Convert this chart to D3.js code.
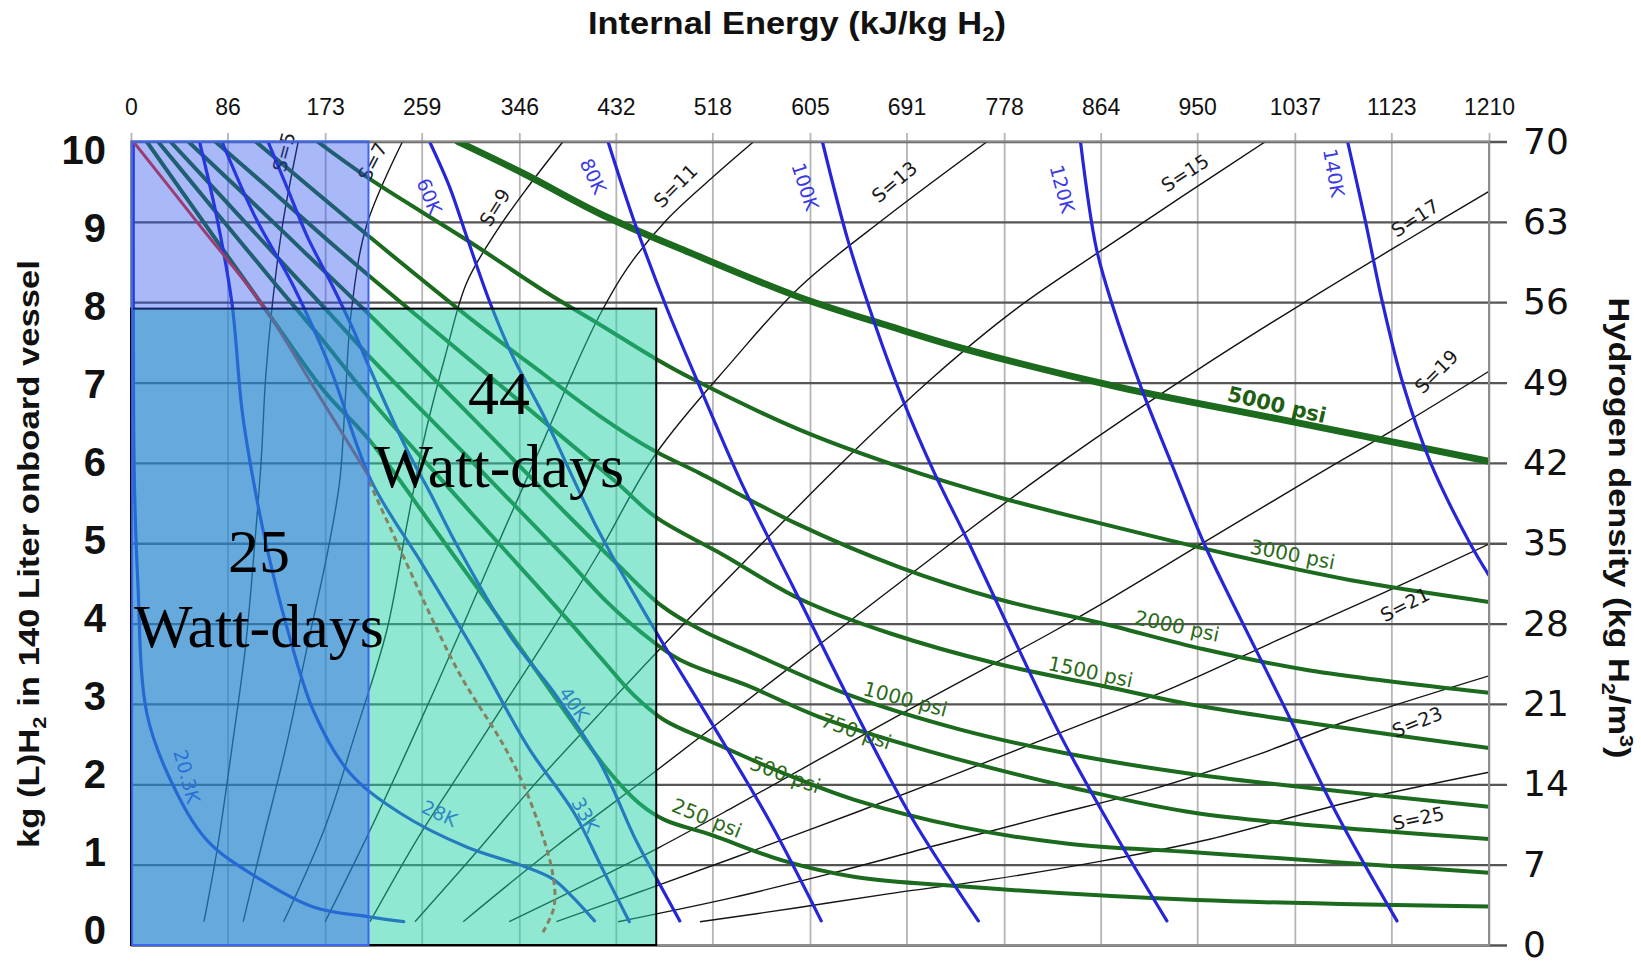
<!DOCTYPE html>
<html>
<head>
<meta charset="utf-8">
<script src="https://cdn.jsdelivr.net/npm/d3@7/dist/d3.min.js"></script>
<style>
  html, body { margin: 0; padding: 0; background: #fff; }
  svg { display: block; }
</style>
</head>
<body>
<svg id="chart" width="1641" height="964"></svg>
<script>
// ---------- axis ticks ----------
const energyTicks  = [0, 86, 173, 259, 346, 432, 518, 605, 691, 778, 864, 950, 1037, 1123, 1210]; // kJ/kg H2
const massTicks    = [0, 1, 2, 3, 4, 5, 6, 7, 8, 9, 10];                                      // kg H2 in 140 L
const densityTicks = [0, 7, 14, 21, 28, 35, 42, 49, 56, 63, 70];                              // kg H2 / m3

// ---------- isobars : [internal energy kJ/kg, kg H2] ----------
const psi250  = [[14,10],[70,8.89],[126,7.79],[173,6.88],[212,6.29],[275,5.09],[331,4.01],[387,2.9],[424,2.19],[453,1.76],[475,1.56],[517,1.37],[581,1.05],[644,0.85],[739,0.73],[950,0.56],[1210,0.48]];
const psi500  = [[24,10],[70,9.22],[126,8.27],[173,7.49],[212,6.81],[303,5.38],[387,4.08],[420,3.55],[448,3.11],[475,2.8],[517,2.53],[581,2.14],[644,1.81],[739,1.47],[835,1.26],[950,1.15],[1210,0.9]];
const psi750  = [[35,10],[79,9.34],[135,8.49],[173,7.92],[212,7.33],[303,6.03],[387,4.82],[424,4.27],[453,3.91],[489,3.55],[549,3.23],[613,2.84],[709,2.42],[835,1.97],[950,1.64],[1210,1.32]];
const psi1000 = [[51,10],[98,9.38],[154,8.63],[212,7.85],[303,6.58],[387,5.38],[434,4.73],[472,4.23],[508,3.92],[549,3.66],[644,3.09],[739,2.68],[835,2.38],[950,2.12],[1210,1.72]];
const psi1500 = [[75,10],[126,9.38],[173,8.8],[212,8.33],[303,7.27],[387,6.29],[434,5.74],[467,5.33],[527,4.86],[597,4.3],[676,3.88],[772,3.5],[867,3.22],[950,2.98],[1077,2.71],[1210,2.45]];
const psi2000 = [[111,10],[163,9.39],[212,8.82],[303,7.79],[368,7.1],[418,6.58],[465,6.16],[507,5.87],[592,5.25],[685,4.7],[774,4.3],[863,4.01],[956,3.68],[1049,3.42],[1210,3.14]];
const psi3000 = [[166,10],[212,9.54],[303,8.74],[368,8.14],[418,7.72],[467,7.3],[501,7.04],[596,6.41],[685,5.95],[774,5.57],[863,5.25],[979,4.86],[1095,4.52],[1210,4.27]];
const psi5000 = [[291,10],[350,9.6],[418,9.1],[499,8.61],[596,8.06],[676,7.7],[745,7.41],[881,6.94],[1021,6.55],[1210,6.02]];

// ---------- isotherms ----------
const k20 = [[2,10],[2,7.85],[3,5.78],[6,4.54],[14,2.89],[35,2.06],[68,1.3],[116,0.81],[163,0.47],[212,0.35],[243,0.29]];
const k28 = [[61,10],[77,9.02],[90,7.98],[99,6.65],[109,5.78],[121,4.95],[139,3.95],[163,2.9],[195,2.14],[240,1.64],[299,1.22],[350,0.98],[376,0.82],[394,0.59],[413,0.3]];
const k33 = [[81,10],[111,9.05],[144,8.22],[177,7.2],[214,5.78],[259,4.75],[307,3.63],[354,2.46],[395,1.64],[420,0.95],[444,0.29]];
const k40 = [[122,10],[139,9.43],[157,8.82],[180,8.19],[198,7.66],[212,7.2],[246,6.16],[266,5.64],[291,4.96],[338,3.84],[377,3.14],[418,2.27],[450,1.3],[469,0.81],[489,0.3]];
const k60 = [[266,10],[284,9.43],[299,8.82],[320,7.99],[340,7.33],[368,6.58],[416,5.17],[463,4.01],[517,2.77],[569,1.54],[615,0.3]];
const k80 = [[425,10],[448,9.02],[477,7.94],[507,6.94],[543,5.78],[592,4.4],[643,2.97],[695,1.6],[755,0.3]];
const k100 = [[616,10],[639,8.76],[663,7.72],[687,6.81],[716,5.87],[747,4.99],[783,3.92],[827,2.64],[874,1.45],[923,0.3]];
const k120 = [[846,10],[860,8.68],[875,7.94],[900,6.94],[928,5.96],[956,5.0],[980,4.3],[1026,3.01],[1074,1.64],[1128,0.3]];
const k140 = [[1084,10],[1100,9],[1115,8],[1133,7],[1158,6],[1193,5],[1210,4.6]];

// ---------- isentropes ----------
const s5  = [[65,0.29],[77,1.21],[90,2.46],[102,3.71],[110,4.95],[116,6.03],[120,7.07],[126,7.98],[135,8.96],[149,10]];
const s7  = [[100,0.29],[116,1.22],[138,2.46],[157,3.71],[176,4.95],[186,5.78],[191,6.81],[196,7.85],[210,8.96],[242,10]];
const s9  = [[136,0.29],[173,1.47],[200,2.64],[228,3.92],[245,5.17],[261,6.29],[280,7.33],[299,8.24],[326,8.89],[354,9.44],[385,10]];
const s11 = [[173,0.29],[210,1.34],[247,2.45],[294,3.92],[331,5.12],[368,6.29],[396,7.2],[418,7.85],[443,8.44],[477,9.02],[517,9.54],[555,10]];
const s13 = [[213,0.29],[256,1.34],[298,2.25],[340,3.16],[375,3.92],[416,4.86],[468,6.12],[536,7.27],[596,8.19],[673,9.06],[763,10]];
const s15 = [[253,0.29],[303,1.08],[359,1.99],[415,2.84],[471,3.68],[536,4.62],[626,5.9],[715,7.07],[789,7.92],[863,8.63],[937,9.32],[1011,10]];
const s17 = [[296,0.29],[378,1.22],[470,2.19],[581,3.39],[644,4.07],[745,5.15],[828,6.0],[956,7.21],[1048,8.02],[1133,8.74],[1210,9.38]];
const s19 = [[337,0.29],[406,0.76],[470,1.21],[536,1.71],[613,2.31],[709,3.05],[819,3.88],[863,4.23],[956,5.01],[1048,5.78],[1133,6.48],[1210,7.14]];
const s21 = [[379,0.29],[453,0.66],[536,1.08],[644,1.64],[741,2.16],[835,2.68],[928,3.2],[1021,3.79],[1114,4.37],[1210,4.99]];
const s23 = [[434,0.29],[536,0.59],[629,0.91],[723,1.26],[816,1.6],[908,1.93],[1002,2.36],[1086,2.8],[1210,3.35]];
const s25 = [[507,0.29],[592,0.46],[676,0.64],[769,0.82],[867,1.05],[956,1.3],[1086,1.78],[1210,2.15]];

// ---------- saturation boundary ----------
const satLiquid = [[2,10],[61,8.96],[119,7.93],[163,6.94],[212,5.83]];
const satDashed = [[212,5.77],[236,5.04],[291,3.42],[333,2.46],[354,1.85],[375,0.94],[377,0.48],[367,0.16]];

// ---------- curve labels : [text, energy, mass] ----------
const isobarLabels = [["250 psi",513,1.58],["500 psi",583,2.12],["750 psi",646,2.66],["1000 psi",690,3.06],
                      ["1500 psi",855,3.4],["2000 psi",932,3.97],["3000 psi",1035,4.86],["5000 psi",1021,6.72]];
const isothermLabels = [["60K",266,9.32],["80K",412,9.57],["100K",601,9.44],["120K",830,9.41],["140K",1072,9.61],
                        ["40K",395,3.0],["33K",405,1.62],["28K",275,1.64],["20.3K",50,2.1]];
const isentropeLabels = [["S=5",136,9.87],["S=7",215,9.75],["S=9",324,9.18],["S=11",485,9.45],["S=13",680,9.5],
                         ["S=15",939,9.61],["S=17",1144,9.05],["S=19",1163,7.14],["S=21",1135,4.24],["S=23",1146,2.78],["S=25",1147,1.58]];

// ---------- stored-energy areas : [energy from, energy to, mass top] ----------
const tealArea = [0, 468, 7.92];
const blueArea = [1, 211.6, 10];
const areaNotes = [["25", 114, 4.64, 3.71], ["44", 328, 6.61, 5.70]]; // value, energy, mass of the two text lines

// =====================================================================
const W = 1641, H = 964;
const svg = d3.select("#chart");
const x = d3.scaleLinear().domain([0, 1210]).range([131, 1489]);
const y = d3.scaleLinear().domain([0, 10]).range([945, 141.5]);
const yDensity = d3.scaleLinear().domain([0, 70]).range([945, 141.5]);
const yMassLabel = d3.scaleLinear().domain([0, 10]).range([931, 151]);

const SANS = "'Liberation Sans', Arial, Helvetica, sans-serif";
const VERD = "'DejaVu Sans', Verdana, sans-serif";
const SERIF = "'Liberation Serif', 'Times New Roman', serif";

svg.append("rect").attr("width", W).attr("height", H).attr("fill", "#fff");

// vertical grid + energy labels on top
const gx = svg.append("g").attr("transform", "translate(0,133)")
  .call(d3.axisTop(x).tickValues(energyTicks).tickFormat(d => String(d))
        .tickSize(-(945 - 133)).tickPadding(18));
gx.select(".domain").remove();
gx.selectAll(".tick line").attr("stroke", "#b5b5b5").attr("stroke-width", 1.8);
gx.selectAll(".tick text").attr("font-family", SANS).attr("font-size", 23).attr("fill", "#111");

// horizontal grid + density labels on the right
const gy = svg.append("g").attr("transform", "translate(1507,0)")
  .call(d3.axisRight(yDensity).tickValues(densityTicks).tickSize(-(1507 - 131)).tickPadding(16));
gy.select(".domain").remove();
gy.selectAll(".tick line").attr("stroke", "#555").attr("stroke-width", 2.3);
gy.selectAll(".tick text").attr("font-family", VERD).attr("font-size", 36).attr("fill", "#111");

// mass labels on the left
const gl = svg.append("g").attr("transform", "translate(106,0)")
  .call(d3.axisLeft(yMassLabel).tickValues(massTicks).tickSize(0).tickPadding(0));
gl.select(".domain").remove();
gl.selectAll(".tick text").attr("font-family", SANS).attr("font-weight", "bold")
  .attr("font-size", 40).attr("fill", "#111");

// clip for the curves
svg.append("defs").append("clipPath").attr("id", "plotClip")
  .append("rect").attr("x", 131).attr("y", 141.5).attr("width", 1358).attr("height", 803.5);

const line = d3.line().x(d => x(d[0])).y(d => y(d[1])).curve(d3.curveCatmullRom.alpha(0.5));
const curves = svg.append("g").attr("clip-path", "url(#plotClip)");

// isentropes
[s5, s7, s9, s11, s13, s15, s17, s19, s21, s23, s25].forEach(pts => {
  curves.append("path").attr("d", line(pts)).attr("fill", "none")
    .attr("stroke", "#141414").attr("stroke-width", 1.4);
});
// isobars
[[psi250,4],[psi500,4],[psi750,4],[psi1000,4],[psi1500,4],[psi2000,4],[psi3000,4],[psi5000,6.8]].forEach(([pts, w]) => {
  curves.append("path").attr("d", line(pts)).attr("fill", "none")
    .attr("stroke", "#1b6a1e").attr("stroke-width", w).attr("stroke-linecap", "round");
});
// isotherms
[k20, k28, k33, k40, k60, k80, k100, k120, k140].forEach(pts => {
  curves.append("path").attr("d", line(pts)).attr("fill", "none")
    .attr("stroke", "#2626d8").attr("stroke-width", 3.2).attr("stroke-linecap", "round");
});
// saturation lines
curves.append("path").attr("d", line(satLiquid)).attr("fill", "none")
  .attr("stroke", "#e8321e").attr("stroke-width", 3);
curves.append("path").attr("d", line(satDashed)).attr("fill", "none")
  .attr("stroke", "#e8321e").attr("stroke-width", 3).attr("stroke-dasharray", "6,4");

// curve labels
const isobarAngle = {"250 psi":22,"500 psi":20,"750 psi":19,"1000 psi":15,"1500 psi":12,"2000 psi":12,"3000 psi":11,"5000 psi":13};
const isothermAngle = {"60K":68,"80K":65,"100K":72,"120K":75,"140K":80,"40K":55,"33K":62,"28K":25,"20.3K":75};
const isentropeAngle = {"S=5":-75,"S=7":-62,"S=9":-58,"S=11":-45,"S=13":-40,"S=15":-33,"S=17":-33,"S=19":-45,"S=21":-27,"S=23":-22,"S=25":-12};

const labels = svg.append("g");
function addLabel(t, e, m, ang, color, size, weight) {
  labels.append("text")
    .attr("transform", `translate(${x(e)},${y(m)}) rotate(${ang})`)
    .attr("text-anchor", "middle").attr("dominant-baseline", "central")
    .attr("font-family", VERD).attr("font-size", size).attr("font-weight", weight || "normal")
    .attr("fill", color).text(t);
}
isentropeLabels.forEach(([t, e, m]) => addLabel(t, e, m, isentropeAngle[t], "#1a1a1a", 19));
isothermLabels.forEach(([t, e, m]) => addLabel(t, e, m, isothermAngle[t], "#3a3ae2", 19));
isobarLabels.forEach(([t, e, m]) => addLabel(t, e, m, isobarAngle[t], t === "5000 psi" ? "#1f5f12" : "#2a6a18",
                                               t === "5000 psi" ? 21 : 20, t === "5000 psi" ? "bold" : "normal"));

// plot frame
svg.append("rect").attr("x", 131).attr("y", 141.5).attr("width", 1358).attr("height", 803.5)
  .attr("fill", "none").attr("stroke", "#8c8c8c").attr("stroke-width", 2);

// stored-energy areas (translucent, over the curves)
svg.append("rect")
  .attr("x", x(tealArea[0])).attr("y", y(tealArea[2]))
  .attr("width", x(tealArea[1]) - x(tealArea[0])).attr("height", y(0) - y(tealArea[2]))
  .attr("fill", "rgb(33,209,165)").attr("fill-opacity", 0.5)
  .attr("stroke", "#000").attr("stroke-width", 2);
svg.append("rect")
  .attr("x", x(blueArea[0])).attr("y", y(blueArea[2]))
  .attr("width", x(blueArea[1]) - x(blueArea[0])).attr("height", y(0) - y(blueArea[2]))
  .attr("fill", "rgb(40,80,238)").attr("fill-opacity", 0.405)
  .attr("stroke", "#3a66f2").attr("stroke-width", 2);

areaNotes.forEach(([v, e, m1, m2]) => {
  svg.append("text").attr("x", x(e)).attr("y", y(m1)).attr("text-anchor", "middle")
    .attr("font-family", SERIF).attr("font-size", 62).attr("fill", "#000").text(v);
  svg.append("text").attr("x", x(e)).attr("y", y(m2)).attr("text-anchor", "middle")
    .attr("font-family", SERIF).attr("font-size", 62).attr("fill", "#000").text("Watt-days");
});

// axis titles
const title = svg.append("text").attr("x", 797).attr("y", 34).attr("text-anchor", "middle")
  .attr("font-family", SANS).attr("font-weight", "bold").attr("font-size", 31).attr("fill", "#111")
  .attr("textLength", 418).attr("lengthAdjust", "spacingAndGlyphs");
title.append("tspan").text("Internal Energy (kJ/kg H");
title.append("tspan").attr("font-size", 20).attr("dy", 7).text("2");
title.append("tspan").attr("dy", -7).text(")");

const leftTitle = svg.append("text").attr("transform", "translate(28,554) rotate(-90)")
  .attr("y", 11).attr("text-anchor", "middle")
  .attr("font-family", SANS).attr("font-weight", "bold").attr("font-size", 30).attr("fill", "#111")
  .attr("textLength", 588).attr("lengthAdjust", "spacingAndGlyphs");
leftTitle.append("tspan").text("kg (L)H");
leftTitle.append("tspan").attr("font-size", 19).attr("dy", 7).text("2");
leftTitle.append("tspan").attr("dy", -7).text(" in 140 Liter  onboard vessel");

const rightTitle = svg.append("text").attr("transform", "translate(1619,528) rotate(90)")
  .attr("y", 10).attr("text-anchor", "middle")
  .attr("font-family", SANS).attr("font-weight", "bold").attr("font-size", 30).attr("fill", "#111")
  .attr("textLength", 461).attr("lengthAdjust", "spacingAndGlyphs");
rightTitle.append("tspan").text("Hydrogen density (kg H");
rightTitle.append("tspan").attr("font-size", 19).attr("dy", 7).text("2");
rightTitle.append("tspan").attr("dy", -7).text("/m");
rightTitle.append("tspan").attr("font-size", 19).attr("dy", -11).text("3");
rightTitle.append("tspan").attr("dy", 11).text(")");
</script>
</body>
</html>
